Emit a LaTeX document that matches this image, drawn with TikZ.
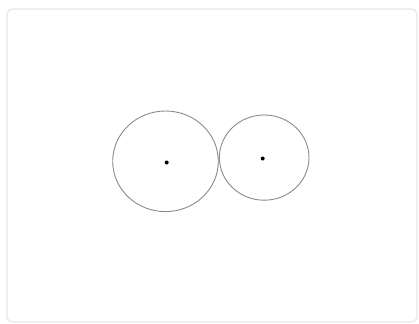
\documentclass[tikz,border=0pt]{standalone}
\definecolor{framegray}{HTML}{E6E6E6}
\definecolor{circgray}{HTML}{8A8A8A}
\begin{document}
\begin{tikzpicture}[x=1pt,y=-1pt,
  ring/.style={draw=circgray,line width=0.9pt},
  centre/.style={fill=black}]
\useasboundingbox (0,0) rectangle (419,323);
\fill[white] (0,0) rectangle (419,323);
\draw[framegray,line width=1.2pt,rounded corners=6pt] (7,9) rectangle (417,322);
\draw[ring] (165.5,161.3) ellipse [x radius=52.8, y radius=50.3];
\draw[ring] (264.2,157.6) ellipse [x radius=44.8, y radius=42.6];
\fill[centre] (166.7,162.5) circle (2);
\fill[centre] (262.7,158.5) circle (2);
\end{tikzpicture}
\end{document}
